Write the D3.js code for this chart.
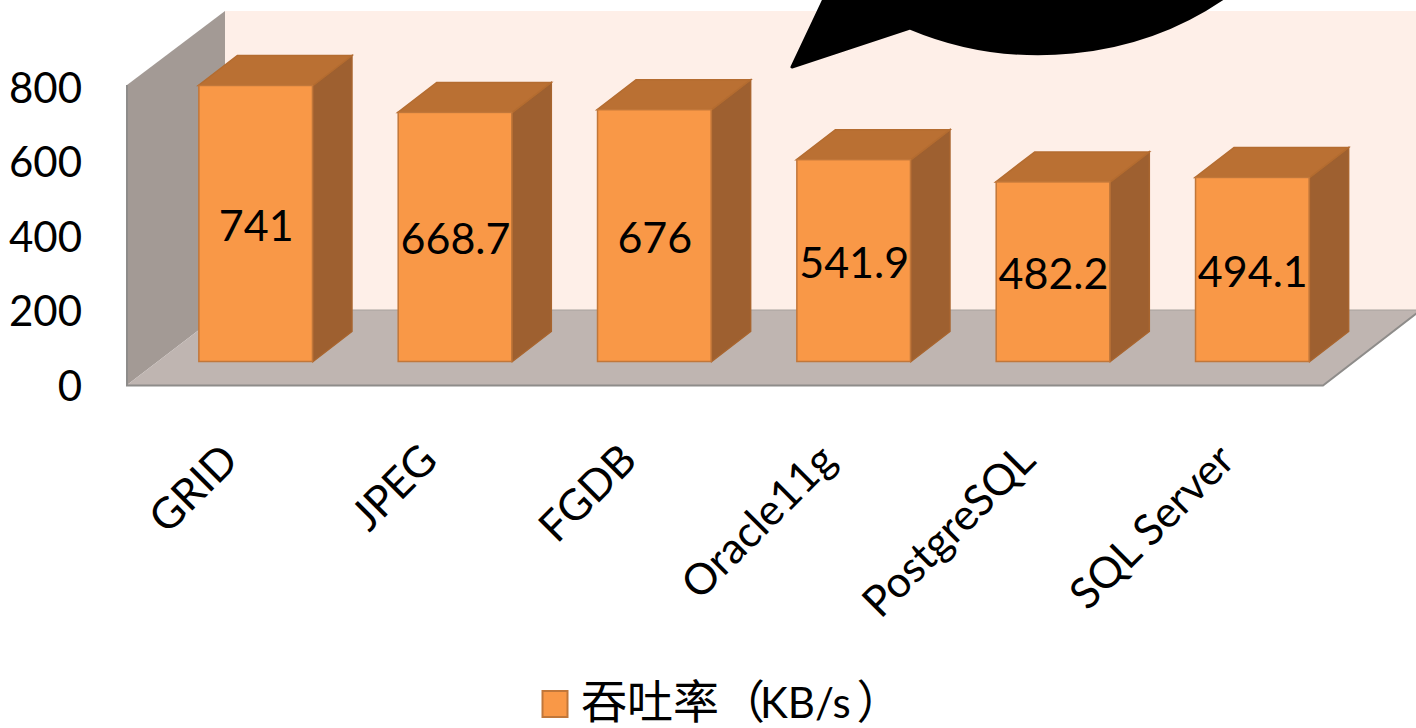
<!DOCTYPE html>
<html>
<head>
<meta charset="utf-8">
<script src="https://cdn.jsdelivr.net/npm/d3@7/dist/d3.min.js"></script>
<style>
html,body{margin:0;padding:0;background:#fff;overflow:hidden}
svg{display:block}
text{font-family:Lato,"Noto Sans","Noto Sans CJK SC",sans-serif;fill:#000}
</style>
</head>
<body>
<svg id="chart" width="1416" height="728"></svg>
<script>
// Throughput per storage backend
const categories = ["GRID","JPEG","FGDB","Oracle11g","PostgreSQL","SQL Server"];
const throughput = [741,668.7,676,541.9,482.2,494.1];
const valueLabels = ["741","668.7","676","541.9","482.2","494.1"];
const yTicks = [0,200,400,600,800];
const legendName = "吞吐率（";
const legendUnit = "KB/s";
const legendClose = "）";

const svg = d3.select("#chart");

// Floor plane frame and the oblique offsets of the pseudo-3D projection
const floorLeft = 127, floorRight = 1323, floorFront = 385;
const wallDx = 98, wallDy = -75, wallHeight = 300, backTop = 11;
const barDx = 39, barDy = -30;
const barBase = 361.5;

const y = d3.scaleLinear().domain([0,800]).range([0,298]);
const x = d3.scaleBand().domain(categories)
  .range([floorLeft+29, floorRight+29]).paddingInner(0.425).paddingOuter(0.2125);

const poly = pts => "M" + pts.map(p=>p.join(",")).join("L") + "Z";

// Back wall
svg.append("path").attr("fill","#FEEFE8")
  .attr("d",poly([[floorLeft+wallDx,floorFront+wallDy],[floorLeft+wallDx,backTop],
                  [1416,backTop],[1416,floorFront+wallDy]]));
// Left wall
svg.append("path").attr("fill","#A39A95")
  .attr("d",poly([[floorLeft,floorFront],[floorLeft,floorFront-wallHeight],
                  [floorLeft+wallDx,backTop],[floorLeft+wallDx,floorFront+wallDy]]));
// Floor
svg.append("path").attr("fill","#BFB5B1")
  .attr("d",poly([[floorLeft,floorFront],[floorRight,floorFront],
                  [floorRight+wallDx,floorFront+wallDy],[floorLeft+wallDx,floorFront+wallDy]]));
// Edge lines of the walls and floor
svg.append("path").attr("fill","none").attr("stroke","#8E8C8A").attr("stroke-width",2)
  .attr("d",`M${floorLeft},${floorFront-wallHeight}V${floorFront+0.5}H${floorRight}L${floorRight+wallDx},${floorFront+wallDy}`);
svg.append("path").attr("fill","none").attr("stroke","#A8A29E").attr("stroke-width",1)
  .attr("d",`M${floorLeft+wallDx},${floorFront+wallDy}H1416`);

// Speech bubble overlapping the top edge
svg.append("path").attr("fill","#000").attr("stroke","#000").attr("stroke-width",3).attr("stroke-linejoin","round")
  .attr("d","M825,-3L792,67L910,28A300,264 0 0 0 1225,-3Z");

// Bars: side, top and front faces
const bars = svg.selectAll("g.bar").data(categories.map((c,i)=>({c,v:throughput[i],label:valueLabels[i]})))
  .join("g").attr("class","bar");
const edge = "#C1773A";
bars.append("path").attr("fill","#9E6030").attr("stroke","#A8652F").attr("stroke-width",1.5)
  .attr("d",d=>{const r=x(d.c)+x.bandwidth(),t=barBase-y(d.v);
    return poly([[r,barBase],[r,t],[r+barDx,t+barDy],[r+barDx,barBase+barDy]]);});
bars.append("path").attr("fill","#BA7033").attr("stroke","#B46C30").attr("stroke-width",1.5)
  .attr("d",d=>{const l=x(d.c),r=l+x.bandwidth(),t=barBase-y(d.v);
    return poly([[l,t],[r,t],[r+barDx,t+barDy],[l+barDx,t+barDy]]);});
bars.append("rect").attr("fill","#F99847").attr("stroke",edge).attr("stroke-width",1.5)
  .attr("x",d=>x(d.c)+0.5).attr("width",x.bandwidth()-1)
  .attr("y",d=>barBase-y(d.v)).attr("height",d=>y(d.v));
bars.append("text").attr("text-anchor","middle").attr("dominant-baseline","central")
  .attr("font-size",43)
  .attr("x",d=>x(d.c)+x.bandwidth()/2+0.5).attr("y",d=>barBase-y(d.v)/2+1)
  .text(d=>d.label);

// Value axis
const yAxis = d3.axisLeft(d3.scaleLinear().domain([0,800]).range([floorFront,floorFront-298]))
  .tickValues(yTicks).tickSize(0).tickPadding(0).tickFormat(d3.format("d"));
const yG = svg.append("g").attr("transform","translate(82,2)").call(yAxis);
yG.select(".domain").remove();
yG.selectAll("text").attr("font-size",42).attr("fill","#000");
yG.attr("font-family",null);

// Category axis with slanted labels
const xAxis = d3.axisBottom(x).tickSize(0).tickPadding(0);
const xG = svg.append("g").call(xAxis);
xG.attr("font-family",null);
xG.select(".domain").remove();
xG.selectAll(".tick").attr("transform",d=>`translate(${x(d)+x.bandwidth()/2-37},441)`);
xG.selectAll("text").attr("font-size",43).attr("fill","#000").attr("text-anchor","end")
  .attr("x",0).attr("y",0).attr("dy","0.71em").attr("transform","rotate(-45)");

// Legend
svg.append("rect").attr("x",542.5).attr("y",691).attr("width",25).attr("height",26)
  .attr("fill","#F99847").attr("stroke",edge).attr("stroke-width",2);
const legend = svg.append("text").attr("x",581).attr("y",718);
legend.append("tspan").attr("font-size",46).text(legendName);
legend.append("tspan").attr("font-size",42).attr("dx",-5).text(legendUnit);
legend.append("tspan").attr("font-size",46).attr("dx",6).text(legendClose);
</script>
</body>
</html>
